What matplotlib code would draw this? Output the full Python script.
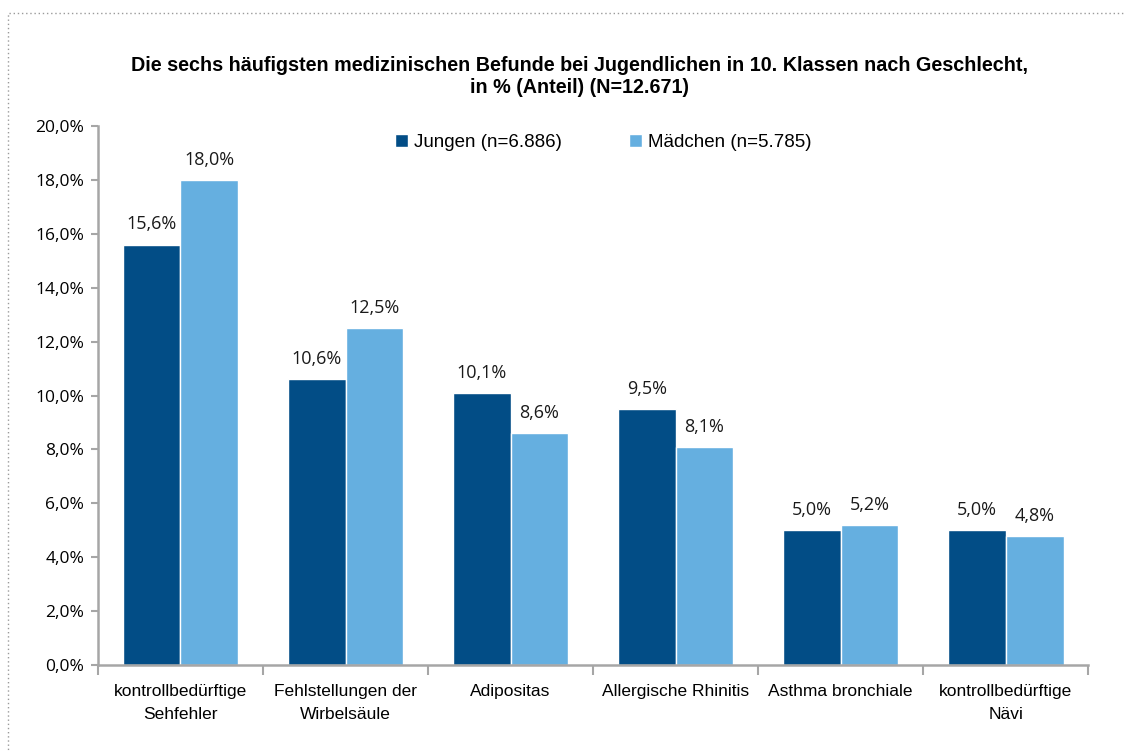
import matplotlib
matplotlib.use("Agg")
import matplotlib.pyplot as plt
import numpy as np
from matplotlib.patches import Rectangle
from matplotlib.ticker import FixedLocator, FuncFormatter

categories = ["kontrollbedürftige\nSehfehler", "Fehlstellungen der\nWirbelsäule", "Adipositas",
              "Allergische Rhinitis", "Asthma bronchiale", "kontrollbedürftige\nNävi"]
jungen = [15.6, 10.6, 10.1, 9.5, 5.0, 5.0]
maedchen = [18.0, 12.5, 8.6, 8.1, 5.2, 4.8]
series_names = ["Jungen (n=6.886)", "Mädchen (n=5.785)"]
title = ("Die sechs häufigsten medizinischen Befunde bei Jugendlichen in 10. Klassen nach Geschlecht,\n"
         "in % (Anteil) (N=12.671)")

DARK = "#024D86"
LIGHT = "#65AFE0"
GREY = "#A6A6A6"
ARIAL = "Liberation Sans"
NUMFONT = "Open Sans"


def pct(v):
    return f"{v:.1f}%".replace(".", ",")


def main() -> None:
    fig = plt.figure(figsize=(11.26, 7.51), dpi=100)
    ax = fig.add_axes([0.087, 0.1145, 0.8795, 0.7177])

    x = np.arange(len(categories))
    w = 0.35
    b1 = ax.bar(x - w / 2, jungen, w, color=DARK, edgecolor="white", linewidth=1.0,
                label=series_names[0])
    b2 = ax.bar(x + w / 2, maedchen, w, color=LIGHT, edgecolor="white", linewidth=1.0,
                label=series_names[1])

    for bars, vals in ((b1, jungen), (b2, maedchen)):
        for r, v in zip(bars, vals):
            ax.annotate(pct(v), (r.get_x() + r.get_width() / 2, v), xytext=(0, 8),
                        textcoords="offset points", ha="center", va="bottom",
                        fontsize=13, family=NUMFONT, color="#1a1a1a")

    ax.set_xlim(-0.5, len(categories) - 0.5)
    ax.set_ylim(0, 20)
    ax.set_yticks(np.arange(0, 20.1, 2))
    ax.yaxis.set_major_formatter(FuncFormatter(lambda v, p: pct(v)))
    for t in ax.get_yticklabels():
        t.set_fontfamily(NUMFONT)
        t.set_fontsize(12.5)
    ax.tick_params(axis="y", length=5, width=1.5, color=GREY, pad=5)

    ax.set_xticks(x)
    ax.set_xticklabels(categories, fontsize=12.5, family=ARIAL, linespacing=1.6)
    ax.tick_params(axis="x", which="major", length=0, pad=14)
    ax.xaxis.set_minor_locator(FixedLocator(np.arange(-0.5, len(categories), 1.0)))
    ax.tick_params(axis="x", which="minor", length=7, width=1.5, color=GREY)

    for s in ("top", "right"):
        ax.spines[s].set_visible(False)
    for s in ("left", "bottom"):
        ax.spines[s].set_color(GREY)
        ax.spines[s].set_linewidth(1.8)

    ax.legend(loc="upper center", bbox_to_anchor=(0.51, 1.017), ncol=2, frameon=False,
              prop={"family": ARIAL, "size": 13.5}, handlelength=0.7, handleheight=0.7,
              handletextpad=0.3, columnspacing=3.6)

    fig.text(0.515, 0.898, title, ha="center", va="center", fontsize=14.2,
             fontweight="bold", family=ARIAL, linespacing=1.25)

    fig.patches.append(Rectangle((8 / 1126, -0.05), 1.2, 1.05 - 13 / 751,
                                 transform=fig.transFigure, fill=False,
                                 edgecolor="#9a9a9a", linestyle=(0, (1, 2)), linewidth=1.0))

    fig.savefig("out.png", dpi=100)


if __name__ == "__main__":
    main()
